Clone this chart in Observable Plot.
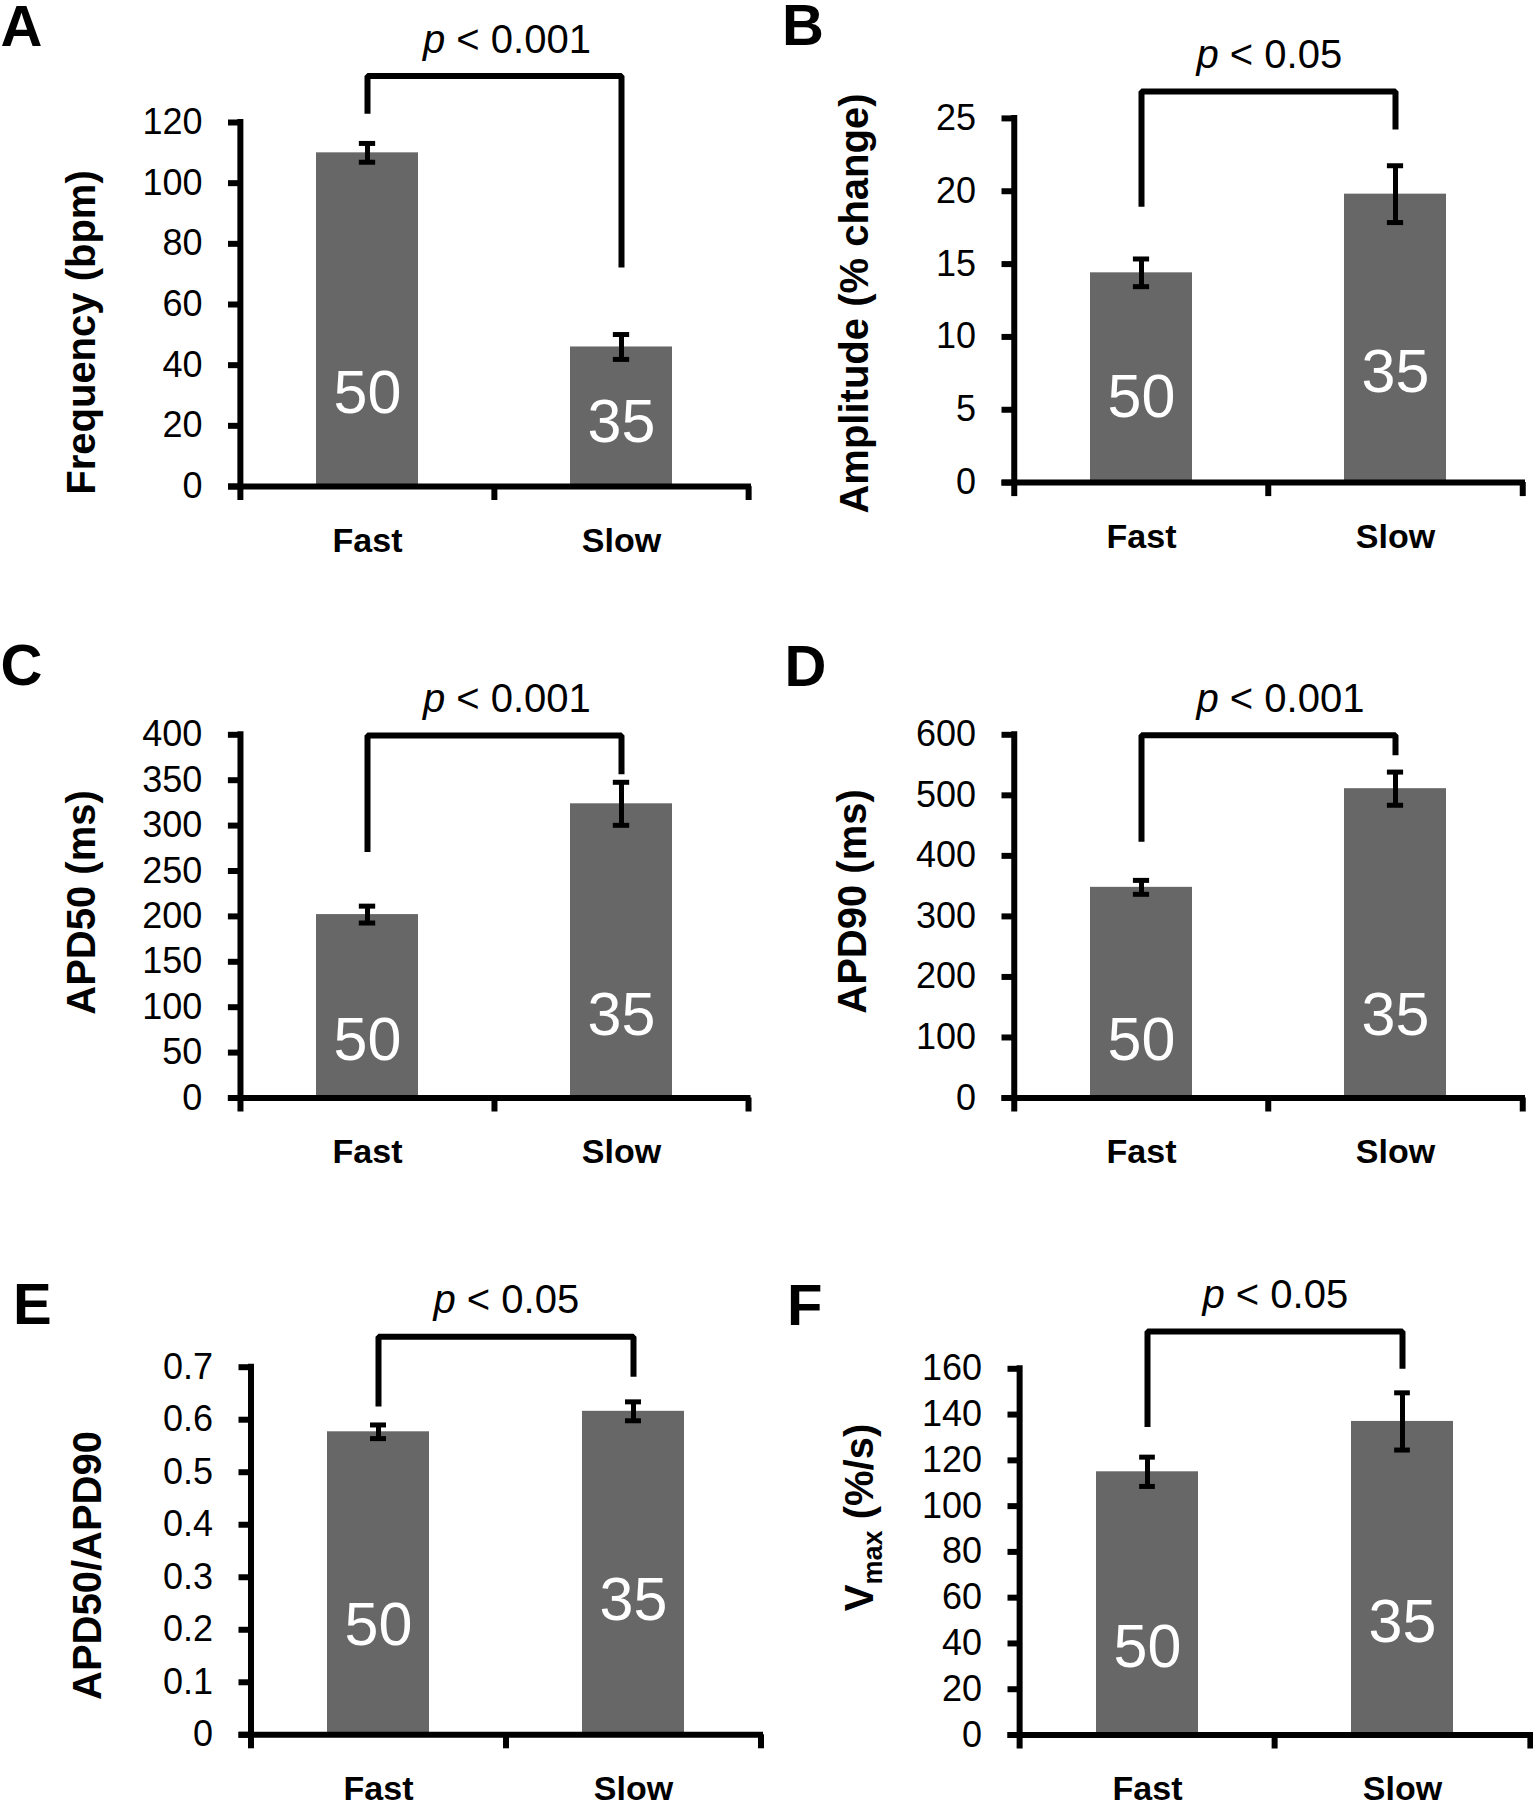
<!DOCTYPE html>
<html>
<head>
<meta charset="utf-8">
<script src="https://cdn.jsdelivr.net/npm/d3@7"></script>
<script src="https://cdn.jsdelivr.net/npm/@observablehq/plot@0.6"></script>
<style>
  html, body { margin: 0; padding: 0; background: #fff; }
  #fig { position: relative; width: 1533px; height: 1800px; overflow: hidden; background: #fff; }
  #fig svg { position: absolute; overflow: visible; }
</style>
</head>
<body>
<div id="fig"></div>
<script>
// ---------------- data ----------------
const groups = ["Fast", "Slow"];
const sampleSizes = [50, 35];

const panelIds = ["A", "B", "C", "D", "E", "F"];
const yLabels = ["Frequency (bpm)", "Amplitude (% change)", "APD50 (ms)", "APD90 (ms)", "APD50/APD90", "Vmax (%/s)"];
const pLabels = ["p < 0.001", "p < 0.05", "p < 0.001", "p < 0.001", "p < 0.05", "p < 0.05"];

// y tick values per panel
const ticksA = [0, 20, 40, 60, 80, 100, 120];
const ticksB = [0, 5, 10, 15, 20, 25];
const ticksC = [0, 50, 100, 150, 200, 250, 300, 350, 400];
const ticksD = [0, 100, 200, 300, 400, 500, 600];
const ticksE = [0, 0.1, 0.2, 0.3, 0.4, 0.5, 0.6, 0.7];
const ticksF = [0, 20, 40, 60, 80, 100, 120, 140, 160];

// means and SEM (Fast, Slow)
const meanA = [110, 46];     const semA = [3.1, 4.1];
const meanB = [14.4, 19.8];  const semB = [0.95, 1.95];
const meanC = [202, 324];    const semC = [9.3, 23.7];
const meanD = [348, 511];    const semD = [11.5, 27.4];
const meanE = [0.577, 0.616]; const semE = [0.013, 0.018];
const meanF = [115, 137];    const semF = [6.4, 12.5];

// significance brackets: [left leg end, top, right leg end] in data units
const bracketA = [122.9, 135.3, 72.2];
const bracketB = [18.94, 26.85, 24.23];
const bracketC = [270.8, 399.2, 356.6];
const bracketD = [423.3, 599.2, 566.1];
const bracketE = [0.625, 0.758, 0.682];
const bracketF = [134.6, 176.3, 160.0];

// ---------------- layout (pixels) ----------------
const layouts = [
  {box: {x: 0,   y: 0,    w: 766, h: 600}, frame: {L: 239.5, R: 748,    T: 122,    B: 486},
   ylab: {x: 82,    y: 332}, letter: {x: 0,     y: 45},   nOff: [74, 45]},
  {box: {x: 766, y: 0,    w: 767, h: 600}, frame: {L: 1013,  R: 1522,   T: 117.9,  B: 482.1},
   ylab: {x: 855,   y: 303}, letter: {x: 781.6, y: 44.5}, nOff: [66, 91]},
  {box: {x: 0,   y: 600,  w: 766, h: 600}, frame: {L: 239.4, R: 747.5,  T: 734.3,  B: 1097.5},
   ylab: {x: 81.5,  y: 902}, letter: {x: 0,     y: 684},  nOff: [38, 63]},
  {box: {x: 766, y: 600,  w: 767, h: 600}, frame: {L: 1013,  R: 1522,   T: 734.3,  B: 1097.5},
   ylab: {x: 852.5, y: 901}, letter: {x: 784,   y: 685},  nOff: [38, 63]},
  {box: {x: 0,   y: 1200, w: 766, h: 600}, frame: {L: 250,   R: 760,    T: 1366.7, B: 1734.3},
   ylab: {x: 88,    y: 1565}, letter: {x: 12.5, y: 1323}, nOff: [90, 115]},
  {box: {x: 766, y: 1200, w: 767, h: 600}, frame: {L: 1019,  R: 1530.5, T: 1368.3, B: 1734.5},
   ylab: {x: 860,   y: 1517}, letter: {x: 786.5, y: 1324}, nOff: [68, 93]}
];

const FONT = "'Liberation Sans', Arial, Helvetica, sans-serif";
const BAR = "#676767";

const panels = [
  {ticks: ticksA, mean: meanA, sem: semA, bracket: bracketA},
  {ticks: ticksB, mean: meanB, sem: semB, bracket: bracketB},
  {ticks: ticksC, mean: meanC, sem: semC, bracket: bracketC},
  {ticks: ticksD, mean: meanD, sem: semD, bracket: bracketD},
  {ticks: ticksE, mean: meanE, sem: semE, bracket: bracketE},
  {ticks: ticksF, mean: meanF, sem: semF, bracket: bracketF}
].map((p, i) => ({...p, id: panelIds[i], yLabel: yLabels[i], pLabel: pLabels[i], layout: layouts[i]}));

function makePanel(p) {
  const {box, frame, ylab, letter, nOff} = p.layout;
  const mL = frame.L - box.x, mR = box.x + box.w - frame.R;
  const mT = frame.T - box.y, mB = box.y + box.h - frame.B;
  const plotW = frame.R - frame.L, plotH = frame.B - frame.T;
  const step = plotW / 2, bw = step * 0.4, capInset = (bw - 16) / 2;
  const yMax = p.ticks[p.ticks.length - 1];

  const rows = groups.map((g, i) => ({group: g, mean: p.mean[i], sem: p.sem[i], n: sampleSizes[i]}));
  const bracket = [
    {group: "Fast", y: p.bracket[0]}, {group: "Fast", y: p.bracket[1]},
    {group: "Slow", y: p.bracket[1]}, {group: "Slow", y: p.bracket[2]}
  ];

  const svg = Plot.plot({
    width: box.w, height: box.h,
    marginLeft: mL, marginRight: mR, marginTop: mT, marginBottom: mB,
    style: {fontFamily: FONT, fontSize: "36px", color: "#000", background: "transparent", overflow: "visible"},
    x: {type: "band", domain: groups, paddingInner: 0.6, paddingOuter: 0.3, axis: null},
    y: {domain: [0, yMax], axis: null},
    marks: [
      Plot.barY(rows, {x: "group", y: "mean", fill: BAR}),
      Plot.ruleX(rows, {x: "group", y1: d => d.mean - d.sem, y2: d => d.mean + d.sem, stroke: "#000", strokeWidth: 5}),
      Plot.tickY(rows, {x: "group", y: d => d.mean + d.sem, stroke: "#000", strokeWidth: 5, insetLeft: capInset, insetRight: capInset}),
      Plot.tickY(rows, {x: "group", y: d => d.mean - d.sem, stroke: "#000", strokeWidth: 5, insetLeft: capInset, insetRight: capInset}),
      ...rows.map((r, i) => Plot.text([r], {
        x: "group", text: d => String(d.n), frameAnchor: "bottom", dy: -nOff[i],
        textAnchor: "middle", lineAnchor: "bottom", fill: "#fff", fontSize: 61, fontFamily: FONT
      })),
      // axes
      Plot.axisY({ticks: p.ticks, tickSize: 11.5, tickPadding: 26, strokeWidth: 6, fontSize: 36,
                  label: null, tickFormat: d => String(+d.toFixed(3))}),
      Plot.ruleX(["Fast"], {x: d => d, dx: -step / 2, y1: () => 0, y2: () => yMax, stroke: "#000", strokeWidth: 6, strokeLinecap: "square"}),
      Plot.ruleY([0], {stroke: "#000", strokeWidth: 6, insetLeft: -11.5, insetRight: -3}),
      Plot.ruleX(groups, {x: d => d, dx: -step / 2, insetTop: plotH, insetBottom: -14, stroke: "#000", strokeWidth: 6}),
      Plot.ruleX(["Slow"], {x: d => d, dx: step / 2, insetTop: plotH, insetBottom: -14, stroke: "#000", strokeWidth: 6}),
      Plot.text(groups, {x: d => d, text: d => d, frameAnchor: "bottom", dy: 65, textAnchor: "middle", lineAnchor: "bottom",
                         fontSize: 34, fontWeight: "bold", fontFamily: FONT}),
      // significance bracket
      Plot.line(bracket, {x: "group", y: "y", stroke: "#000", strokeWidth: 6, strokeLinejoin: "miter", strokeLinecap: "butt"}),
      Plot.text([p.pLabel], {y: () => p.bracket[1], text: d => d, frameAnchor: "left", dx: 183, dy: -23.5,
                             textAnchor: "start", lineAnchor: "bottom", fontSize: 40, fontFamily: FONT}),
      // y label
      Plot.text([p.yLabel], {text: d => d, frameAnchor: "left", rotate: -90,
                             dx: ylab.x - frame.L, dy: ylab.y - (frame.T + frame.B) / 2,
                             textAnchor: "middle", lineAnchor: "middle", fontSize: 40, fontWeight: "bold", fontFamily: FONT}),
      // panel letter
      Plot.text([p.id], {text: d => d, frameAnchor: "top-left", dx: letter.x - frame.L, dy: letter.y - frame.T,
                         textAnchor: "start", lineAnchor: "bottom", fontSize: 58, fontWeight: "bold", fontFamily: FONT})
    ]
  });

  // rich text: italic p, subscript "max"
  svg.querySelectorAll("text").forEach(t => {
    const s = t.textContent;
    if (/^p </.test(s)) {
      t.textContent = "";
      const a = document.createElementNS("http://www.w3.org/2000/svg", "tspan");
      a.setAttribute("font-style", "italic"); a.textContent = "p";
      const b = document.createElementNS("http://www.w3.org/2000/svg", "tspan");
      b.textContent = s.slice(1);
      t.append(a, b);
    } else if (s === "Vmax (%/s)") {
      t.textContent = "";
      const a = document.createElementNS("http://www.w3.org/2000/svg", "tspan");
      a.textContent = "V";
      const b = document.createElementNS("http://www.w3.org/2000/svg", "tspan");
      b.setAttribute("font-size", "27"); b.setAttribute("dy", "9"); b.textContent = "max";
      const c = document.createElementNS("http://www.w3.org/2000/svg", "tspan");
      c.setAttribute("dy", "-9"); c.textContent = " (%/s)";
      t.append(a, b, c);
    }
  });

  svg.style.left = box.x + "px";
  svg.style.top = box.y + "px";
  return svg;
}

const fig = document.getElementById("fig");
panels.forEach(p => fig.appendChild(makePanel(p)));
</script>
</body>
</html>
